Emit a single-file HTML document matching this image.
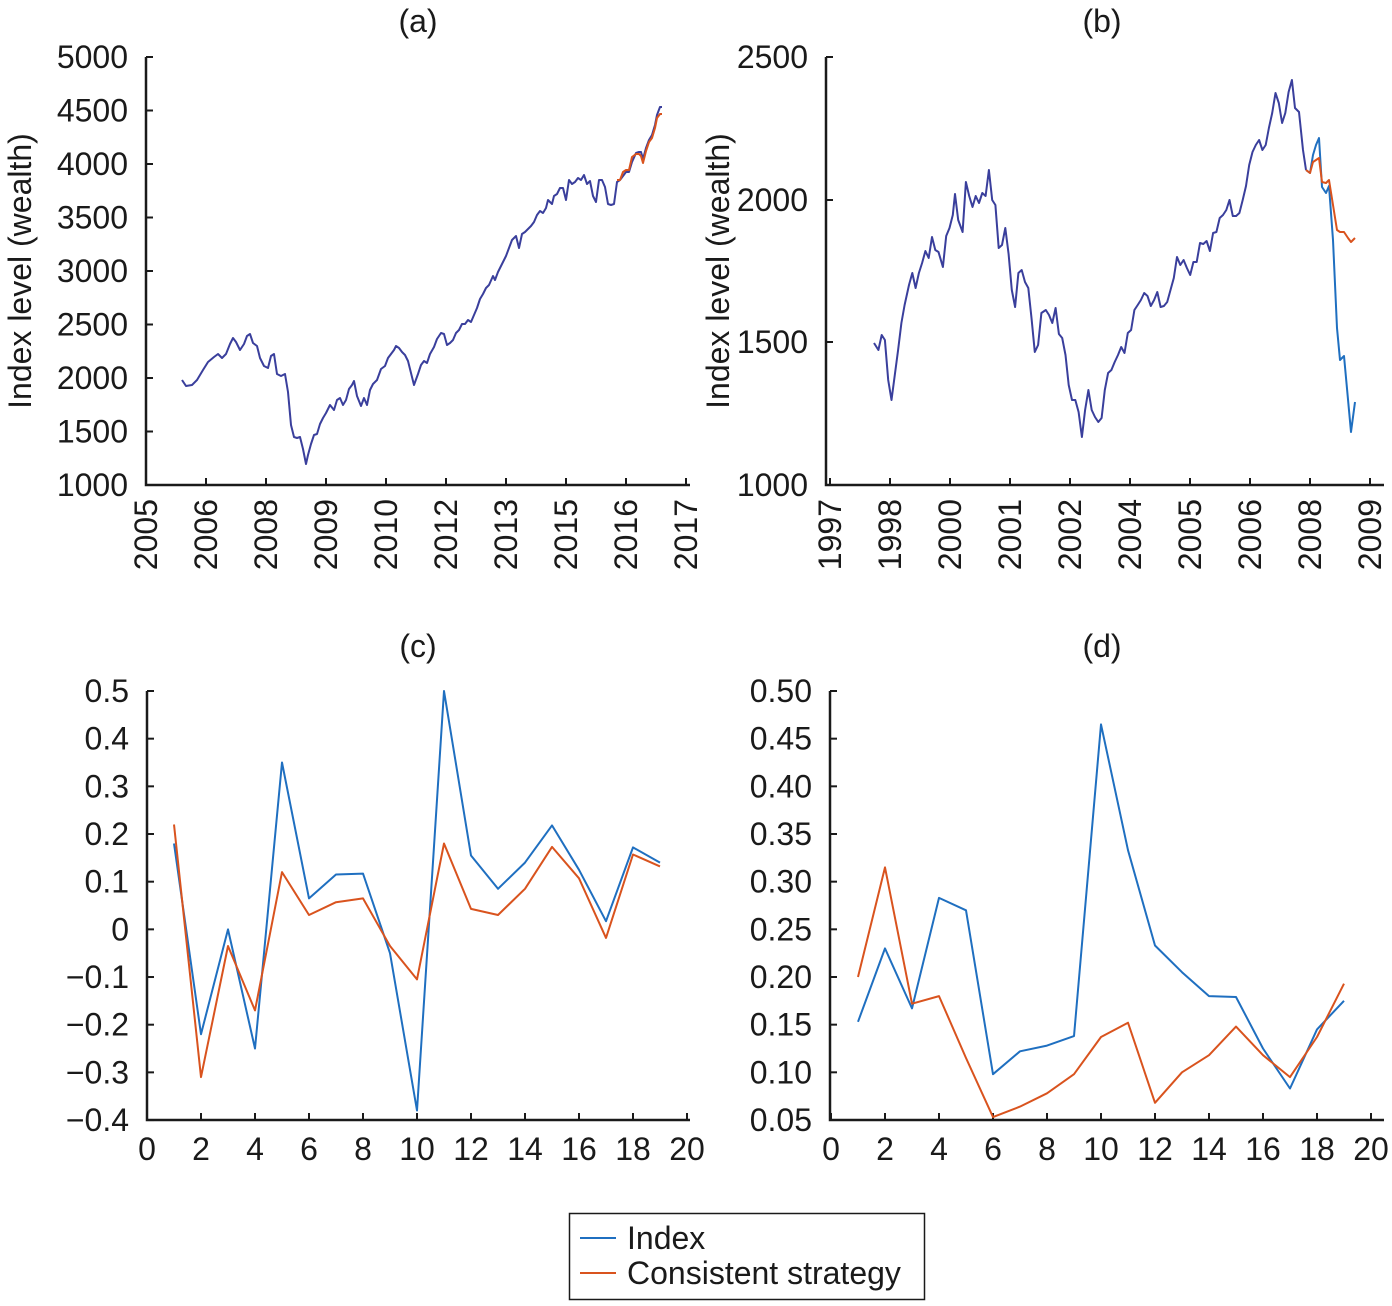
<!DOCTYPE html>
<html><head><meta charset="utf-8"><style>
html,body{margin:0;padding:0;background:#fff;}
svg text{font-family:"Liberation Sans",Arial,sans-serif;fill:#1a1a1a;}
</style></head><body>
<svg id="s" width="1392" height="1301" xmlns="http://www.w3.org/2000/svg"></svg>
<script>
const s=document.getElementById('s');let h='';
const BL='#3a3f9c',B2='#1f6fc0',OR='#d9531e',AX='#1a1a1a';const FS=32;
function pl(pts,c){h+=`<polyline fill="none" stroke="${c}" stroke-width="2" stroke-linejoin="round" points="${pts.map(p=>p[0].toFixed(1)+','+p[1].toFixed(1)).join(' ')}"/>`;}
function txt(x,y,t,a,extra){h+=`<text x="${x}" y="${y}" font-size="${FS}" text-anchor="${a||'middle'}" ${extra||''}>${t}</text>`;}
function axes(x0,x1,y0,y1){h+=`<path d="M${x0},${y0} V${y1} H${x1}" fill="none" stroke="${AX}" stroke-width="2.5"/>`;}
function yt(x0,ys,labels){ys.forEach((y,i)=>{h+=`<line x1="${x0}" x2="${x0+7}" y1="${y}" y2="${y}" stroke="${AX}" stroke-width="2"/>`;txt(x0-18,y+11,labels[i],'end');});}
function xt(y0,xs,labels,rot){xs.forEach((x,i)=>{h+=`<line x1="${x}" x2="${x}" y1="${y0}" y2="${y0-7}" stroke="${AX}" stroke-width="2"/>`;
 if(rot) h+=`<text x="${x+11}" y="${y0+14}" font-size="${FS}" text-anchor="end" transform="rotate(-90 ${x+11} ${y0+14})">${labels[i]}</text>`;
 else txt(x,y0+40,labels[i]);});}
// Panel a
axes(146,690,57,485);
yt(146,[57,110.5,164,217.5,271,324.5,378,431.5,485],['5000','4500','4000','3500','3000','2500','2000','1500','1000']);
xt(485,[146,206,266,326,386,446,506,566,626,686],['2005','2006','2008','2009','2010','2012','2013','2015','2016','2017'],1);
txt(418,32,'(a)');
h+=`<text x="31" y="271" font-size="${FS}" text-anchor="middle" transform="rotate(-90 31 271)">Index level (wealth)</text>`;
pl([[182,380],[186,386],[192,385],[197,380],[203,370],[208,362],[214,357],[218,354],[222,358],[226,354],[230,344],[233,338],[236,342],[240,350],[244,344],[247,336],[250,334],[253,343],[257,346],[260,358],[264,366],[268,368],[271,356],[274,354],[277,374],[281,376],[285,374],[288,392],[291,425],[294,437],[297,438],[300,437],[303,449],[306,464],[308,455],[311,444],[314,435],[317,434],[320,424],[323,418],[326,413],[330,405],[334,410],[337,400],[340,398],[343,405],[346,400],[349,389],[352,385],[354,381],[357,396],[361,406],[364,398],[367,405],[370,390],[373,384],[377,380],[381,369],[385,366],[388,358],[391,354],[394,350],[396,346],[399,348],[402,352],[405,355],[408,361],[411,373],[414,385],[418,374],[421,365],[424,361],[427,363],[430,354],[434,347],[437,339],[441,333],[444,334],[447,345],[450,343],[453,340],[456,333],[459,330],[462,324],[465,324],[468,320],[471,322],[474,315],[477,308],[480,299],[483,294],[486,288],[489,285],[493,276],[495,280],[498,272],[500,268],[503,262],[506,256],[509,248],[512,240],[516,236],[519,248],[522,234],[525,232],[528,229],[531,226],[534,222],[537,215],[540,211],[543,213],[546,208],[548,200],[552,204],[554,196],[557,194],[560,188],[563,188],[566,200],[569,180],[572,184],[575,182],[578,178],[581,180],[584,175],[587,184],[590,181],[593,196],[596,202],[599,180],[602,180],[605,187],[608,204],[611,205],[614,204],[617,182],[620,180],[623,176],[626,172],[629,172],[632,162],[636,153],[639,152],[641,152],[643,159],[646,148],[649,140],[652,135],[655,125],[657,115],[660,107],[662,107]],BL);
pl([[617,180],[620,180],[623,172],[626,170],[629,170],[632,157],[636,154],[639,154],[641,156],[643,163],[646,151],[649,142],[652,138],[655,128],[657,118],[660,114],[662,114]],OR);
// Panel b
axes(826,1384,57,485);
yt(826,[57,200,342,485],['2500','2000','1500','1000']);
xt(485,[830,890,950,1010,1070,1130,1190,1250,1310,1370],['1997','1998','2000','2001','2002','2004','2005','2006','2008','2009'],1);
txt(1102,32,'(b)');
h+=`<text x="729" y="271" font-size="${FS}" text-anchor="middle" transform="rotate(-90 729 271)">Index level (wealth)</text>`;
let raw=[[874,343],[878,350],[881,335],[884,340],[887,380],[890,400],[893,375],[896,350],[899,323],[902,305],[906,285],[909,273],[912,288],[915,273],[918,263],[921,251],[924,258],[927,237],[930,250],[933,252],[937,267],[940,236],[943,228],[946,215],[948,194],[951,220],[955,232],[958,182],[961,196],[964,207],[967,196],[970,203],[973,193],[976,196],[979,170],[982,200],[985,205],[988,248],[991,245],[994,228],[997,254],[1000,290],[1003,307],[1006,273],[1009,270],[1012,282],[1015,288],[1018,318],[1021,352],[1024,345],[1027,313],[1031,310],[1034,315],[1037,323],[1040,308],[1043,334],[1046,338],[1049,355],[1052,385],[1055,400],[1058,400],[1061,412],[1064,437],[1067,410],[1070,390],[1073,410],[1076,417],[1079,422],[1082,418],[1085,390],[1088,373],[1091,370],[1094,362],[1097,355],[1100,347],[1103,353],[1106,333],[1109,330],[1112,310],[1115,305],[1118,300],[1121,293],[1124,296],[1127,306],[1130,300],[1133,292],[1136,307],[1139,306],[1142,302],[1145,290],[1148,278],[1151,257],[1154,265],[1157,260],[1160,268],[1163,275],[1166,262],[1169,262],[1172,243],[1175,244],[1178,241],[1181,251],[1184,233],[1187,232],[1190,218],[1193,215],[1196,210],[1199,200],[1202,216],[1205,216],[1208,213],[1211,200],[1214,186],[1217,165],[1220,152],[1223,145],[1226,140],[1229,150],[1232,145],[1235,128],[1238,113],[1241,93],[1244,103],[1247,123],[1250,113],[1253,92],[1256,80]];
let bb=raw.map(p=>[874+(p[0]-874)*1.094,p[1]]);
bb=bb.concat([[1295,108],[1299,112],[1303,150],[1306,170]]);
pl(bb,BL);
pl([[1306,170],[1310,173],[1313,155],[1316,145],[1319,138],[1322,187],[1326,193],[1329,186],[1333,240],[1337,328],[1340,360],[1344,356],[1351,432],[1355,402]],B2);
pl([[1306,170],[1310,173],[1313,162],[1316,160],[1319,158],[1322,182],[1326,183],[1329,180],[1333,205],[1337,230],[1340,232],[1344,232],[1348,238],[1351,242],[1355,238]],OR);
// Panel c
axes(147,690,691,1120);
{let v=[0.5,0.4,0.3,0.2,0.1,0,-0.1,-0.2,-0.3,-0.4];yt(147,v.map(a=>691+(0.5-a)*476.7),['0.5','0.4','0.3','0.2','0.1','0','\u22120.1','\u22120.2','\u22120.3','\u22120.4']);}
xt(1120,[0,2,4,6,8,10,12,14,16,18,20].map(a=>147+a*27),['0','2','4','6','8','10','12','14','16','18','20'],0);
txt(418,657,'(c)');
const ci=[0.18,-0.22,0.0,-0.25,0.35,0.065,0.115,0.117,-0.05,-0.38,0.5,0.155,0.085,0.14,0.218,0.125,0.017,0.172,0.14];
const cs=[0.22,-0.31,-0.035,-0.17,0.12,0.03,0.057,0.065,-0.035,-0.105,0.18,0.043,0.03,0.085,0.173,0.107,-0.018,0.157,0.132];
pl(ci.map((a,i)=>[147+(i+1)*27,691+(0.5-a)*476.7]),B2);
pl(cs.map((a,i)=>[147+(i+1)*27,691+(0.5-a)*476.7]),OR);
// Panel d
axes(830,1384,691,1120);
{let v=[0.5,0.45,0.4,0.35,0.3,0.25,0.2,0.15,0.1,0.05];yt(830,v.map(a=>691+(0.5-a)*953.3),v.map(a=>a.toFixed(2)));}
xt(1120,[0,2,4,6,8,10,12,14,16,18,20].map(a=>831+a*27),['0','2','4','6','8','10','12','14','16','18','20'],0);
txt(1102,657,'(d)');
const di=[0.153,0.23,0.167,0.283,0.27,0.098,0.122,0.128,0.138,0.465,0.333,0.233,0.205,0.18,0.179,0.125,0.083,0.145,0.175];
const ds=[0.2,0.315,0.172,0.18,0.115,0.053,0.064,0.078,0.098,0.137,0.152,0.068,0.1,0.118,0.148,0.118,0.095,0.137,0.193];
pl(di.map((a,i)=>[831+(i+1)*27,691+(0.5-a)*953.3]),B2);
pl(ds.map((a,i)=>[831+(i+1)*27,691+(0.5-a)*953.3]),OR);
// Legend
h+=`<rect x="569.5" y="1213.5" width="355" height="86" fill="#fff" stroke="${AX}" stroke-width="1.5"/>`;
h+=`<line x1="580" x2="616" y1="1238" y2="1238" stroke="${B2}" stroke-width="2"/>`;
h+=`<line x1="580" x2="616" y1="1273" y2="1273" stroke="${OR}" stroke-width="2"/>`;
txt(627,1249,'Index','start');txt(627,1284,'Consistent strategy','start');
s.innerHTML=h;
</script>
</body></html>
